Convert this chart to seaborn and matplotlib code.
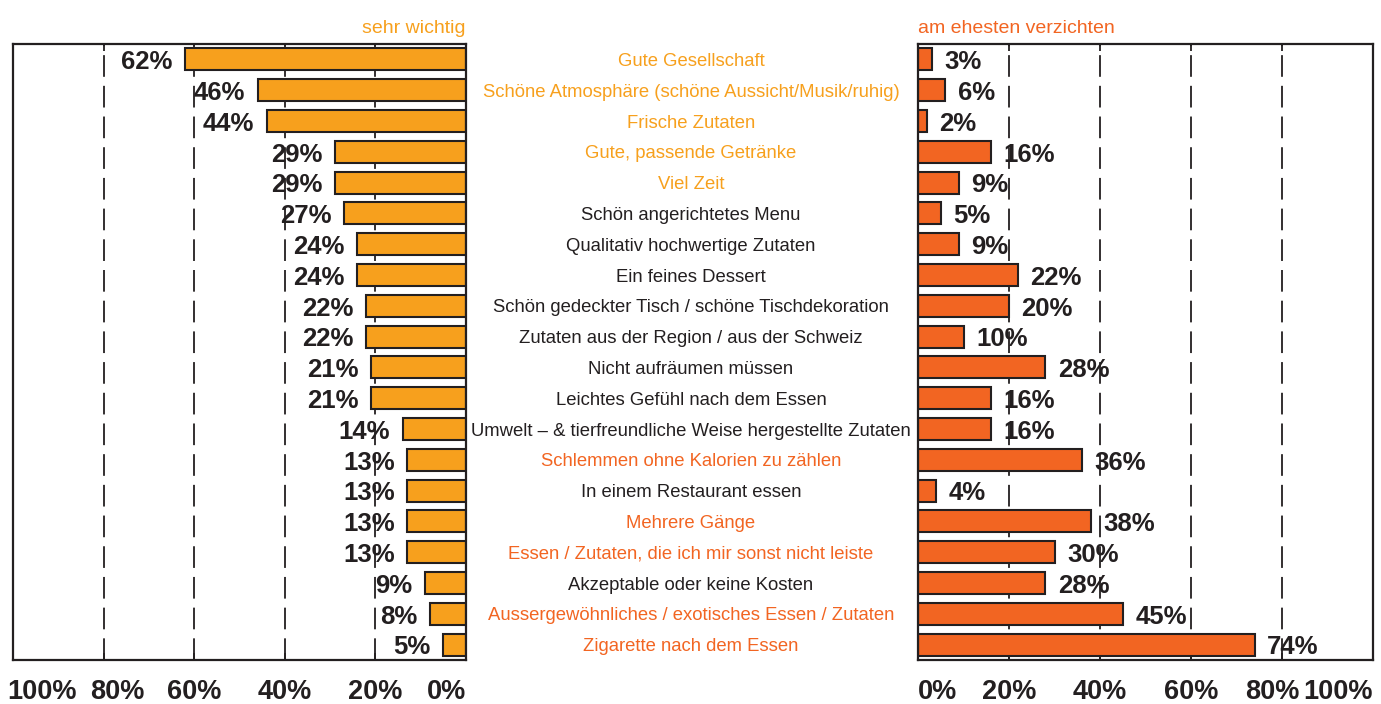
import matplotlib

matplotlib.use("Agg")
import matplotlib.pyplot as plt
import matplotlib.transforms as mtransforms
import pandas as pd
import seaborn as sns

# --------------------------------------------------------------------------- #
# Data
# --------------------------------------------------------------------------- #
categories = [
    "Gute Gesellschaft",
    "Schöne Atmosphäre (schöne Aussicht/Musik/ruhig)",
    "Frische Zutaten",
    "Gute, passende Getränke",
    "Viel Zeit",
    "Schön angerichtetes Menu",
    "Qualitativ hochwertige Zutaten",
    "Ein feines Dessert",
    "Schön gedeckter Tisch / schöne Tischdekoration",
    "Zutaten aus der Region / aus der Schweiz",
    "Nicht aufräumen müssen",
    "Leichtes Gefühl nach dem Essen",
    "Umwelt – & tierfreundliche Weise hergestellte Zutaten",
    "Schlemmen ohne Kalorien zu zählen",
    "In einem Restaurant essen",
    "Mehrere Gänge",
    "Essen / Zutaten, die ich mir sonst nicht leiste",
    "Akzeptable oder keine Kosten",
    "Aussergewöhnliches / exotisches Essen / Zutaten",
    "Zigarette nach dem Essen",
]
sehr_wichtig = [62, 46, 44, 29, 29, 27, 24, 24, 22, 22, 21, 21, 14, 13, 13, 13, 13, 9, 8, 5]
verzichten = [3, 6, 2, 16, 9, 5, 9, 22, 20, 10, 28, 16, 16, 36, 4, 38, 30, 28, 45, 74]
# which side a category stands out on: "w" = sehr wichtig, "v" = verzichten, "" = none
highlight = ["w", "w", "w", "w", "w", "", "", "", "", "", "", "", "",
             "v", "", "v", "v", "", "v", "v"]

tick_values = [0, 20, 40, 60, 80, 100]
tick_labels = ["0%", "20%", "40%", "60%", "80%", "100%"]
grid_values = [20, 40, 60, 80]

ORANGE = "#F7A01D"
RED = "#F26522"
DARK = "#231F20"
text_colors = {"w": ORANGE, "v": RED, "": DARK}

# --------------------------------------------------------------------------- #
# Plot
# --------------------------------------------------------------------------- #
sns.set_theme(style="white")
plt.rcParams["font.family"] = ["Liberation Sans", "DejaVu Sans"]

df = pd.DataFrame({"Kategorie": categories,
                   "sehr wichtig": sehr_wichtig,
                   "verzichten": verzichten})

W, H = 1381, 704
fig = plt.figure(figsize=(W / 100, H / 100), dpi=100)
ax_l = fig.add_axes([13 / W, 44 / H, 453 / W, 616 / H])
ax_r = fig.add_axes([918 / W, 44 / H, 455 / W, 616 / H])

for ax, col, color in [(ax_l, "sehr wichtig", ORANGE), (ax_r, "verzichten", RED)]:
    sns.barplot(data=df, x=col, y="Kategorie", color=color, saturation=1,
                edgecolor=DARK, linewidth=1.5, width=0.72, ax=ax, zorder=2)
    for g in grid_values:
        ax.axvline(g, color=DARK, lw=1.3, ls=(0, (12, 5)), zorder=1)
    ax.set_ylim(len(categories) - 0.5, -0.5)
    ax.set_yticks([])
    ax.set_xlabel("")
    ax.set_ylabel("")
    ax.set_xticks(tick_values, tick_labels, fontweight="bold", fontsize=19.5, color=DARK)
    ax.tick_params(axis="x", direction="in", length=5, width=1.3, top=True,
                   bottom=True, pad=14, color=DARK)
    for sp in ax.spines.values():
        sp.set_visible(True)
        sp.set_color(DARK)
        sp.set_linewidth(1.6)

ax_l.set_xlim(100, 0)
ax_r.set_xlim(0, 100)

# keep the outer tick labels inside the frame
lbl_l = ax_l.get_xticklabels()
lbl_l[0].set_ha("right")
lbl_l[-1].set_ha("left")
lbl_l[-1].set_transform(lbl_l[-1].get_transform()
                        + mtransforms.ScaledTranslation(-4 / 72, 0, fig.dpi_scale_trans))
lbl_l[4].set_transform(lbl_l[4].get_transform()
                       + mtransforms.ScaledTranslation(10 / 72, 0, fig.dpi_scale_trans))
lbl_r = ax_r.get_xticklabels()
lbl_r[0].set_ha("left")
lbl_r[-1].set_ha("right")
lbl_r[4].set_transform(lbl_r[4].get_transform()
                       + mtransforms.ScaledTranslation(-7 / 72, 0, fig.dpi_scale_trans))

# value labels
for i, v in enumerate(sehr_wichtig):
    ax_l.annotate(f"{v}%", (v, i), xytext=(-9, -2), textcoords="offset points",
                  ha="right", va="center", fontsize=18.5, fontweight="bold",
                  color=DARK, zorder=3)
for i, v in enumerate(verzichten):
    ax_r.annotate(f"{v}%", (v, i), xytext=(9, -2), textcoords="offset points",
                  ha="left", va="center", fontsize=18.5, fontweight="bold",
                  color=DARK, zorder=3)

# category labels in the gap between the panels
trans = mtransforms.blended_transform_factory(fig.transFigure, ax_l.transData)
for i, (cat, h) in enumerate(zip(categories, highlight)):
    ax_l.annotate(cat, (0.5004, i), xycoords=trans, xytext=(0, -1.5),
                  textcoords="offset points", ha="center", va="center",
                  fontsize=13.3, color=text_colors[h], annotation_clip=False)

# panel titles
ax_l.annotate("sehr wichtig", (1, 1), xycoords="axes fraction", xytext=(0, 8),
              textcoords="offset points", ha="right", va="baseline",
              fontsize=14, color=ORANGE)
ax_r.annotate("am ehesten verzichten", (0, 1), xycoords="axes fraction",
              xytext=(0, 8), textcoords="offset points", ha="left",
              va="baseline", fontsize=14, color=RED)

fig.savefig("out.png", dpi=100)
plt.close(fig)
